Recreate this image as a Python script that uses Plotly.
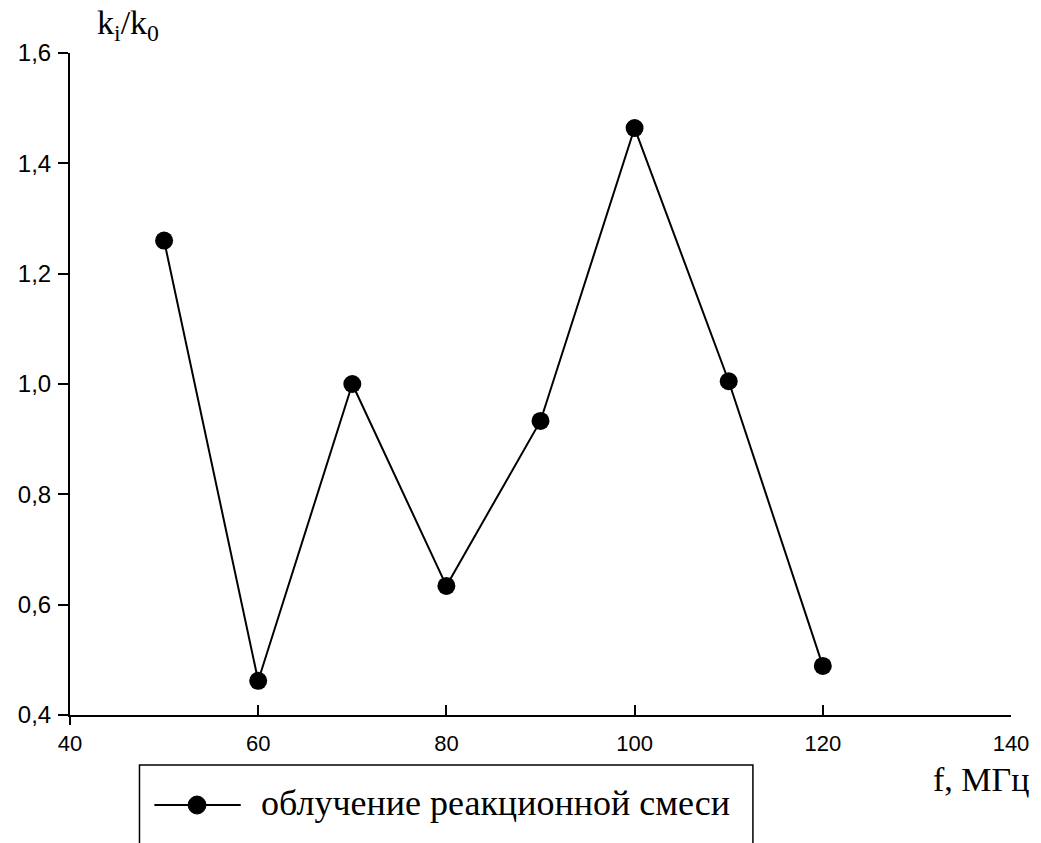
import plotly.graph_objects as go

freq = [50, 60, 70, 80, 90, 100, 110, 120]
ratio = [1.26, 0.462, 1.0, 0.634, 0.933, 1.464, 1.005, 0.489]
x_ticks = [40, 60, 80, 100, 120, 140]
y_ticks = [0.4, 0.6, 0.8, 1.0, 1.2, 1.4, 1.6]
series_name = "облучение реакционной смеси"

W, H = 1041, 843
ml, mr, mt, mb = 70, 23, 53, 128
SERIF = "Liberation Serif, Times New Roman, serif"

fig = go.Figure()
fig.add_trace(go.Scatter(
    x=freq, y=ratio, mode="lines+markers", name=series_name,
    line=dict(color="black", width=2),
    marker=dict(color="black", size=18),
    showlegend=False,
))

def px(xp):
    return (xp - ml) / (W - ml - mr)

def py(yp):
    return (H - mb - yp) / (H - mt - mb)

# y axis line extends slightly below the x axis
fig.add_shape(type="line", xref="paper", yref="paper",
              x0=0, x1=0, y0=py(715), y1=py(725),
              line=dict(color="black", width=2))

# legend box (manual, bottom clipped like in reference)
fig.add_shape(type="rect", xref="paper", yref="paper",
              x0=px(140), x1=px(758), y0=py(900), y1=py(765),
              line=dict(color="black", width=1.5), fillcolor="rgba(0,0,0,0)")
fig.add_shape(type="line", xref="paper", yref="paper",
              x0=px(155), x1=px(242), y0=py(805), y1=py(805),
              line=dict(color="black", width=2))
fig.add_shape(type="circle", xref="paper", yref="paper",
              x0=px(189), x1=px(207), y0=py(814), y1=py(796),
              line=dict(color="black", width=1), fillcolor="black")
fig.add_annotation(xref="paper", yref="paper", x=px(260), y=py(803),
                   xanchor="left", yanchor="middle", showarrow=False,
                   text=series_name,
                   font=dict(family=SERIF, size=36, color="black"))

# axis titles
fig.add_annotation(xref="paper", yref="paper", x=px(95), y=py(2),
                   xanchor="left", yanchor="top", showarrow=False,
                   text="k<sub>i</sub>/k<sub>0</sub>",
                   font=dict(family=SERIF, size=34, color="black"))
fig.add_annotation(xref="paper", yref="paper", x=px(1038), y=py(780),
                   xanchor="right", yanchor="middle", showarrow=False,
                   text="f, МГц",
                   font=dict(family=SERIF, size=34, color="black"))

fig.update_layout(
    width=W, height=H,
    margin=dict(l=ml, r=mr, t=mt, b=mb),
    paper_bgcolor="white", plot_bgcolor="white",
    separators=", ",
    showlegend=False,
    font=dict(family="Liberation Sans, Arial, sans-serif", size=22, color="black"),
)
fig.update_xaxes(
    range=[40, 140], tickvals=x_ticks, ticktext=[str(v) for v in x_ticks],
    showgrid=False, zeroline=False, showline=True, linecolor="black", linewidth=2,
    ticks="inside", ticklen=10, tickwidth=1.5, tickcolor="black",
    tickfont=dict(family="Liberation Sans, Arial", size=22, color="black"),
    ticklabelstandoff=8,
)
fig.update_yaxes(
    range=[0.4, 1.6], tickvals=y_ticks, tickformat=".1f",
    showgrid=False, zeroline=False, showline=True, linecolor="black", linewidth=2,
    ticks="outside", ticklen=10, tickwidth=1.5, tickcolor="black",
    tickfont=dict(family="Liberation Sans, Arial", size=24, color="black"),
    ticklabelstandoff=2,
)

fig.write_html("out.html")
